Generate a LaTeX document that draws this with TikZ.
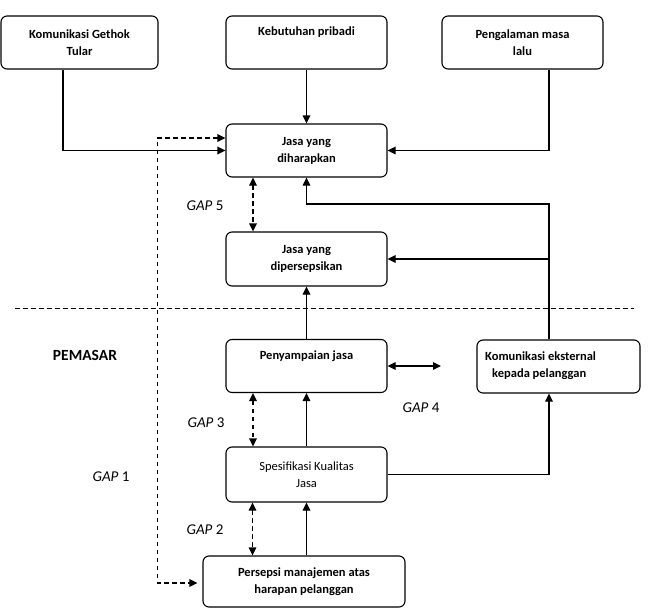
\documentclass[tikz,border=0pt]{standalone}
\usepackage{fontspec}
\setmainfont{Carlito}
\usetikzlibrary{arrows.meta}
\begin{document}
\begin{tikzpicture}[x=1pt,y=-1pt,
  box/.style={draw,line width=1.1pt,rounded corners=6pt,inner sep=0pt,align=center,
    font=\fontsize{12.5}{17}\selectfont\bfseries},
  arr/.style={line width=1.1pt,-{Triangle[length=8pt,width=7.5pt]}},
  darr/.style={line width=1.1pt,dash pattern=on 4.5pt off 3.5pt,{Triangle[length=8pt,width=7.5pt]}-{Triangle[length=8pt,width=7.5pt]}},
  gaplbl/.style={font=\fontsize{15}{17}\selectfont,inner sep=0pt},
]
\useasboundingbox (0,0) rectangle (665,608);
% boxes
\node[box,minimum width=157pt,minimum height=53pt] (kgt) at (79.5,42.5) {Komunikasi Gethok\\Tular};
\node[box,minimum width=161pt,minimum height=53pt] (kp) at (306.5,42.5) {Kebutuhan pribadi\\\strut};
\node[box,minimum width=161pt,minimum height=53pt] (pml) at (522.5,42.5) {Pengalaman masa\\lalu};
\node[box,minimum width=161pt,minimum height=53pt] (jdh) at (306.5,150.5) {Jasa yang\\diharapkan};
\node[box,minimum width=161pt,minimum height=54pt] (jdp) at (306.5,259) {Jasa yang\\dipersepsikan};
\node[box,minimum width=161pt,minimum height=53pt] (pj) at (306.5,366) {Penyampaian jasa\\\strut};
\node[box,minimum width=163pt,minimum height=53pt] (ke) at (558.5,366.5) {};
\node[inner sep=0pt,align=left,anchor=west,font=\fontsize{12.5}{17}\selectfont\bfseries] (ket) at (485,366) {Komunikasi eksternal\\\hspace{7pt}kepada pelanggan};
\node[box,minimum width=161pt,minimum height=55pt,font=\fontsize{12.5}{17}\selectfont] (skj) at (306.5,474.5) {Spesifikasi Kualitas\\Jasa};
\node[box,minimum width=202pt,minimum height=51pt] (pm) at (304,581.5) {Persepsi manajemen atas\\harapan pelanggan};
% labels
\node[font=\fontsize{15.5}{17}\selectfont\bfseries,inner sep=0pt] (pem) at (85,355) {PEMASAR};
\node[gaplbl] (g5) at (205,206) {\textit{GAP} 5};
\node[gaplbl] (g4) at (421,408) {\textit{GAP} 4};
\node[gaplbl] (g3) at (206,423) {\textit{GAP} 3};
\node[gaplbl] (g1) at (111,477) {\textit{GAP} 1};
\node[gaplbl] (g2) at (205,530) {\textit{GAP} 2};
% coordinates
\coordinate (kt) at ([xshift=-9.5]ke.north);
\coordinate (kb) at ([xshift=-9.5]ke.south);
\coordinate (t4) at (306.5,204);
\coordinate (gc) at (157.5,583);
\coordinate (g4e) at (441,366);
\coordinate (d1) at (15,308);
\coordinate (d2) at (634,308);
% connectors
\draw[arr] ([xshift=-16.5]kgt.south) |- (jdh.west);
\draw[arr] (kp.south) -- (jdh.north);
\draw[arr] ([xshift=26.5]pml.south) |- (jdh.east);
\draw[darr,shorten >=5pt] ([yshift=12.5]jdh.west) -| (gc) -- (pm.west |- gc);
\draw[darr] ([xshift=-53.5]jdh.south) -- ([xshift=-53.5]jdp.north);
\draw[arr] (kt) |- (t4) -- (jdh.south);
\draw[arr] (kt |- jdp.east) -- (jdp.east);
\draw[arr] (pj.north) -- (jdp.south);
\draw[line width=1.1pt,{Triangle[length=8pt,width=7.5pt]}-{Triangle[length=8pt,width=7.5pt]}] (pj.east) -- (g4e);
\draw[darr] ([xshift=-53.5]pj.south) -- ([xshift=-53.5]skj.north);
\draw[arr] (skj.north) -- (pj.south);
\draw[arr] (skj.east) -| (kb);
\draw[darr] ([xshift=-54]skj.south) -- ([xshift=-51.5]pm.north);
\draw[arr] ([xshift=2.5]pm.north) -- (skj.south);
\draw[line width=1pt,dash pattern=on 4.5pt off 3.5pt] (d1) -- (d2);
\end{tikzpicture}
\end{document}
